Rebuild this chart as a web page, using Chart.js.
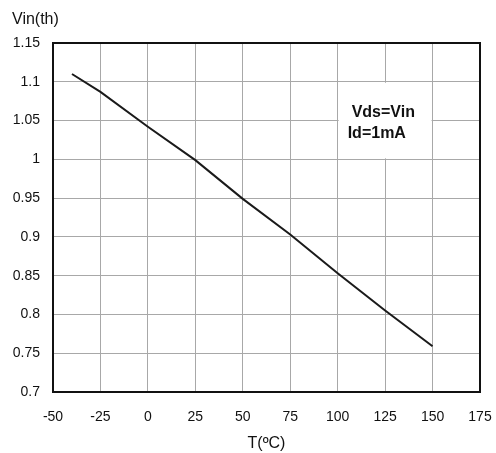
<!DOCTYPE html>
<html>
<head>
<meta charset="utf-8">
<script src="https://cdn.jsdelivr.net/npm/chart.js@4.4.1/dist/chart.umd.min.js"></script>
<style>
html,body{margin:0;padding:0;background:#fff;}
#wrap{width:496px;height:453px;position:relative;}
</style>
</head>
<body>
<div id="wrap"><canvas id="c" width="496" height="453"></canvas></div>
<script>
const temperatures = [-40, -25, 0, 25, 50, 75, 100, 125, 150];
const vinTh = [1.11, 1.087, 1.042, 0.999, 0.949, 0.903, 0.853, 0.805, 0.759];
const xTickValues = [-50, -25, 0, 25, 50, 75, 100, 125, 150, 175];
const yTickLabels = ['0.7', '0.75', '0.8', '0.85', '0.9', '0.95', '1', '1.05', '1.1', '1.15'];
const yTickValues = [0.7, 0.75, 0.8, 0.85, 0.9, 0.95, 1.0, 1.05, 1.1, 1.15];
const yAxisLabel = 'Vin(th)';
const xAxisLabel = 'T(ºC)';
const noteLines = ['Vds=Vin', 'Id=1mA'];
const noteBox = {x0: 100, x1: 150, y0: 1.0, y1: 1.1};

const FONT = '"Liberation Sans", Arial, sans-serif';

const extras = {
  id: 'extras',
  beforeDatasetsDraw(chart) {
    const {ctx, scales: {x, y}} = chart;
    const l = x.getPixelForValue(noteBox.x0), r = x.getPixelForValue(noteBox.x1);
    const t = y.getPixelForValue(noteBox.y1), b = y.getPixelForValue(noteBox.y0);
    ctx.save();
    ctx.fillStyle = '#ffffff';
    ctx.fillRect(l + 1, t + 1, r - l - 2, b - t - 2);
    ctx.fillStyle = '#111';
    ctx.font = 'bold 16px ' + FONT;
    ctx.textBaseline = 'middle';
    ctx.textAlign = 'left';
    ctx.fillText(noteLines[0], l + 14, t + 31);
    ctx.fillText(noteLines[1], l + 10, t + 52);
    ctx.restore();
  },
  afterDraw(chart) {
    const {ctx, chartArea: a} = chart;
    ctx.save();
    ctx.strokeStyle = '#111';
    ctx.lineWidth = 2;
    ctx.strokeRect(a.left, a.top, a.right - a.left, a.bottom - a.top);
    ctx.fillStyle = '#111';
    ctx.font = '16px ' + FONT;
    ctx.textBaseline = 'middle';
    ctx.textAlign = 'left';
    ctx.fillText(yAxisLabel, 12, 20);
    ctx.restore();
  }
};

new Chart(document.getElementById('c'), {
  type: 'scatter',
  data: {
    datasets: [{
      data: temperatures.map((t, i) => ({x: t, y: vinTh[i]})),
      showLine: true,
      borderColor: '#1a1a1a',
      borderWidth: 2,
      pointRadius: 0,
      tension: 0
    }]
  },
  options: {
    responsive: false,
    animation: false,
    devicePixelRatio: 1,
    layout: {padding: {top: 43, right: 16, left: 0, bottom: 0}},
    plugins: {legend: {display: false}, tooltip: {enabled: false}},
    scales: {
      x: {
        type: 'linear', min: -50, max: 175,
        afterBuildTicks: ax => { ax.ticks = xTickValues.map(v => ({value: v})); },
        afterFit: ax => { ax.height = 61; ax.paddingLeft = 0; ax.paddingRight = 0; },
        grid: {color: '#a8a8a8', lineWidth: 1, drawTicks: false},
        border: {display: false},
        ticks: {color: '#111', font: {family: FONT, size: 14}, padding: 17, maxRotation: 0,
          callback: v => String(v)},
        title: {display: true, text: xAxisLabel, color: '#111', font: {family: FONT, size: 16}, padding: {top: 2, bottom: 0}}
      },
      y: {
        type: 'linear', min: 0.7, max: 1.15,
        afterBuildTicks: ax => { ax.ticks = yTickValues.map(v => ({value: v})); },
        afterFit: ax => { ax.width = 53; ax.paddingTop = 0; ax.paddingBottom = 0; },
        grid: {color: '#a8a8a8', lineWidth: 1, drawTicks: false},
        border: {display: false},
        ticks: {color: '#111', font: {family: FONT, size: 14}, padding: 13,
          callback: (v, i) => yTickLabels[i]}
      }
    }
  },
  plugins: [extras]
});
</script>
</body>
</html>
